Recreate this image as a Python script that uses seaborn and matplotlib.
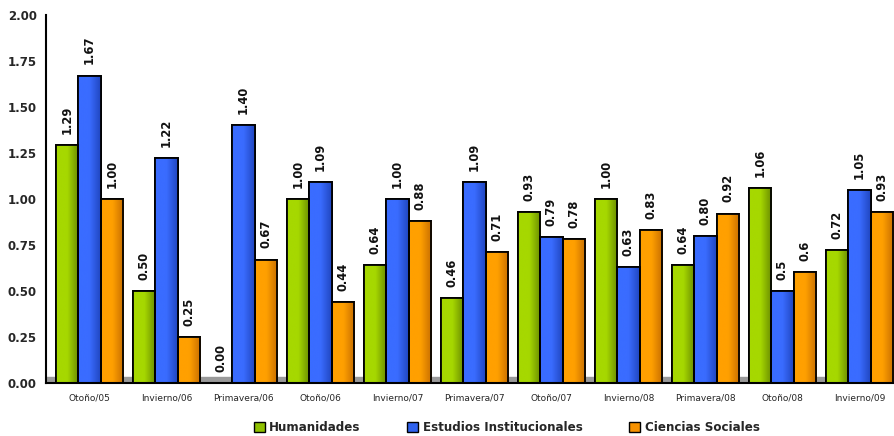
import numpy as np
import pandas as pd
import seaborn as sns
import matplotlib.pyplot as plt
from matplotlib.colors import LinearSegmentedColormap
from matplotlib.ticker import FixedLocator, NullFormatter

periodos = ["Otoño/05", "Invierno/06", "Primavera/06", "Otoño/06", "Invierno/07",
            "Primavera/07", "Otoño/07", "Invierno/08", "Primavera/08", "Otoño/08", "Invierno/09"]
humanidades = [1.29, 0.50, 0.00, 1.00, 0.64, 0.46, 0.93, 1.00, 0.64, 1.06, 0.72]
estudios = [1.67, 1.22, 1.40, 1.09, 1.00, 1.09, 0.79, 0.63, 0.80, 0.50, 1.05]
ciencias = [1.00, 0.25, 0.67, 0.44, 0.88, 0.71, 0.78, 0.83, 0.92, 0.60, 0.93]
etiq_hum = ["1.29", "0.50", "0.00", "1.00", "0.64", "0.46", "0.93", "1.00", "0.64", "1.06", "0.72"]
etiq_est = ["1.67", "1.22", "1.40", "1.09", "1.00", "1.09", "0.79", "0.63", "0.80", "0.5", "1.05"]
etiq_cie = ["1.00", "0.25", "0.67", "0.44", "0.88", "0.71", "0.78", "0.83", "0.92", "0.6", "0.93"]
series = ["Humanidades", "Estudios Institucionales", "Ciencias Sociales"]
colores = ["#8fc000", "#2f62ee", "#f79200"]
# tonos claro / oscuro para el sombreado cilíndrico
claros = ["#a6d800", "#3a6cff", "#ffa000"]
oscuros = ["#6a8c00", "#2046c0", "#c86e00"]

df = pd.DataFrame({
    "periodo": periodos * 3,
    "serie": [s for s in series for _ in periodos],
    "valor": humanidades + estudios + ciencias,
})

sns.set_style("white")
fig = plt.figure(figsize=(8.94, 4.36), dpi=100)
ax = fig.add_axes([0.052, 0.122, 0.948, 0.844])

ax.axhspan(0, 0.03, color="#9a9a9a", zorder=0)
sns.barplot(data=df, x="periodo", y="valor", hue="serie", hue_order=series,
            palette=colores, saturation=1, width=0.87, gap=0, dodge=True,
            edgecolor="black", linewidth=1.3, ax=ax, legend=False, zorder=2)

ax.set_ylim(0, 2.0)
ax.set_xlim(-0.56, 10.45)

# degradado horizontal dentro de cada barra
grad = np.linspace(0, 1, 64).reshape(1, -1)
for cont, c1, c2 in zip(ax.containers, claros, oscuros):
    cmap = LinearSegmentedColormap.from_list("g", [c1, c1, c2])
    for p in cont:
        x0, w, h = p.get_x(), p.get_width(), p.get_height()
        if h <= 0:
            continue
        im = ax.imshow(grad, extent=[x0, x0 + w, 0, h], cmap=cmap, aspect="auto",
                       zorder=2.1, interpolation="bicubic")
        im.set_clip_path(p)
        ax.add_patch(plt.Rectangle((x0, 0), w, h, fill=False, edgecolor="black",
                                   linewidth=1.3, zorder=2.2))

for cont, etiq in zip(ax.containers, [etiq_hum, etiq_est, etiq_cie]):
    ax.bar_label(cont, labels=etiq, rotation=90, padding=8,
                 fontsize=8.3, fontweight="bold", color="#111111")

ax.set_ylim(0, 2.0)
ax.set_xlim(-0.56, 10.45)
ax.set_yticks([0, 0.25, 0.5, 0.75, 1.0, 1.25, 1.5, 1.75, 2.0])
ax.set_yticklabels([f"{v:.2f}" for v in ax.get_yticks()], fontsize=8.5, fontweight="bold")
ax.set_xticks(range(len(periodos)))
ax.set_xticklabels(periodos, fontsize=6.5)
ax.xaxis.set_minor_locator(FixedLocator([i - 0.53 for i in range(len(periodos) + 1)]))
ax.xaxis.set_minor_formatter(NullFormatter())
ax.tick_params(axis="x", which="major", length=0, pad=8)
ax.tick_params(axis="x", which="minor", length=5, width=1.3, color="black", direction="inout")
ax.tick_params(axis="y", length=5, width=1.3, color="black", direction="out", pad=2)
ax.set_xlabel("")
ax.set_ylabel("")
for lado in ["top", "right"]:
    ax.spines[lado].set_visible(False)
ax.spines["left"].set_linewidth(1.5)
ax.spines["bottom"].set_linewidth(1.5)
ax.spines["left"].set_color("black")
ax.spines["bottom"].set_color("black")

manijas = [plt.Rectangle((0, 0), 1, 1, facecolor=c, edgecolor="black", linewidth=1) for c in colores]
fig.legend(manijas, series, loc="lower center", bbox_to_anchor=(0.567, -0.02), ncol=3,
           frameon=False, handlelength=0.9, handleheight=0.9, handletextpad=0.4,
           columnspacing=3.9, prop={"weight": "bold", "size": 8.6})

fig.savefig("out.png", dpi=100)
